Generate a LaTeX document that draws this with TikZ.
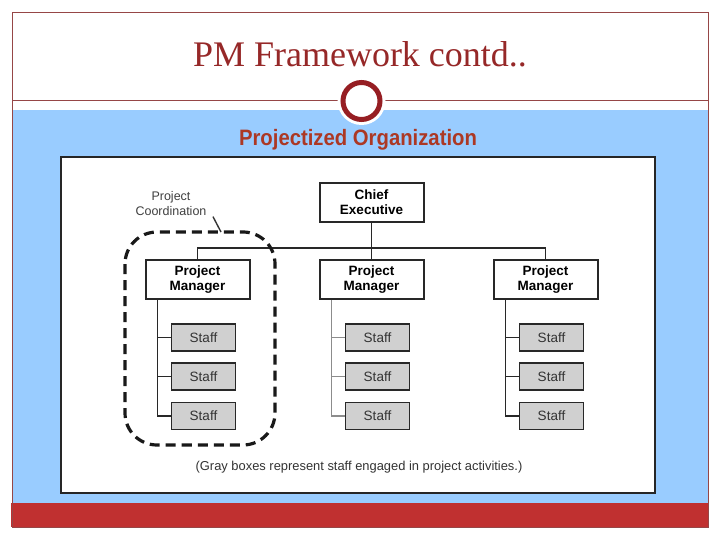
\documentclass[tikz,border=0pt]{standalone}
\usepackage{fontspec}
\setmainfont{Liberation Serif}
\setsansfont{Liberation Sans}
\usepackage{tikz}
\usepackage{xcolor}
\usetikzlibrary{positioning}
\definecolor{slideblue}{RGB}{153,204,255}
\definecolor{bandred}{RGB}{192,48,48}
\definecolor{titlered}{RGB}{150,40,40}
\definecolor{subred}{RGB}{172,56,36}
\definecolor{ringred}{RGB}{150,30,35}
\definecolor{framered}{RGB}{150,70,70}
\definecolor{staffgray}{RGB}{208,208,208}
\definecolor{inkgray}{RGB}{40,40,40}
\newcommand{\chartfont}{\sffamily\fontsize{13.5}{15}\selectfont}

\begin{document}
\begin{tikzpicture}[
    x=1pt, y=-1pt,
    box/.style={rectangle, draw=inkgray, line width=2pt, align=center, inner sep=2pt},
    pm/.style={box, fill=white, minimum width=104pt, minimum height=39pt, font=\chartfont\bfseries},
    staff/.style={box, fill=staffgray, line width=1.8pt, minimum width=64pt, minimum height=27pt, font=\chartfont, text=black!80},
    link/.style={draw=inkgray, line width=1.5pt},
    coord/.style={draw=black!90, line width=3.2pt, dash pattern=on 10pt off 6pt, rounded corners=32pt}
]
\useasboundingbox (0,0) rectangle (720,540);

% Slide frame
\fill[white] (0,0) rectangle (720,540);
\fill[slideblue] (12,110) rectangle (708,503);
\fill[bandred] (11,503) rectangle (708,527);
\draw[framered, line width=0.8pt] (12,12) rectangle (708,527);
\draw[framered, line width=0.8pt] (12,100) -- (708,100);
\fill[white] (361.5,101) circle (24);
\draw[ringred, line width=5pt, fill=white] (361.5,101) circle (18.5);

\node[font=\fontsize{36}{40}\selectfont, text=titlered, anchor=base] (title) at (360,67) {PM Framework contd..};
\node[font=\sffamily\bfseries\fontsize{22.3}{24}\selectfont, text=subred, anchor=base] (subtitle) at (358,146)
    {\scalebox{0.91}[1]{Projectized Organization}};

% Figure
\draw[fill=white, draw=black!85, line width=1.2pt] (61,157) rectangle (655,493);

\node[pm] (chief) at (371.5,202.5) {Chief\\Executive};
\node[pm, below=36pt of chief] (pm2) {Project\\Manager};
\node[pm, left=68pt of pm2] (pm1) {Project\\Manager};
\node[pm, right=68pt of pm2] (pm3) {Project\\Manager};

\coordinate (bus) at ([yshift=-25pt]chief.south);
\draw[link] (chief) -- (pm2);
\draw[link] (pm1) |- (bus) -| (pm3);

% Staff under each project manager
\foreach \i/\c in {1/inkgray,2/black!45,3/inkgray} {
    \node[staff, below=23pt of pm\i, xshift=6pt] (s\i1) {Staff};
    \node[staff, below=10.5pt of s\i1] (s\i2) {Staff};
    \node[staff, below=10.5pt of s\i2] (s\i3) {Staff};
    \coordinate (sp\i) at ([xshift=13pt]pm\i.south west);
    \draw[link, draw=\c] (sp\i) |- (s\i3.west);
    \draw[link, draw=\c] (s\i1.west -| sp\i) -- (s\i1.west);
    \draw[link, draw=\c] (s\i2.west -| sp\i) -- (s\i2.west);
}

% Project coordination
\draw[coord] (125,232) rectangle (275,445);
\node[font=\sffamily\fontsize{12.5}{15}\selectfont, text=black!75, align=center] (pcoord) at (171,204) {Project\\Coordination};
\coordinate (ctop) at (221,232);
\draw[black!80, line width=1.4pt] ([xshift=3pt,yshift=3pt]pcoord.south east) -- (ctop);

\node[font=\sffamily\fontsize{12.9}{15}\selectfont, text=black!80] (note) at (359,467)
    {(Gray boxes represent staff engaged in project activities.)};
\end{tikzpicture}
\end{document}
